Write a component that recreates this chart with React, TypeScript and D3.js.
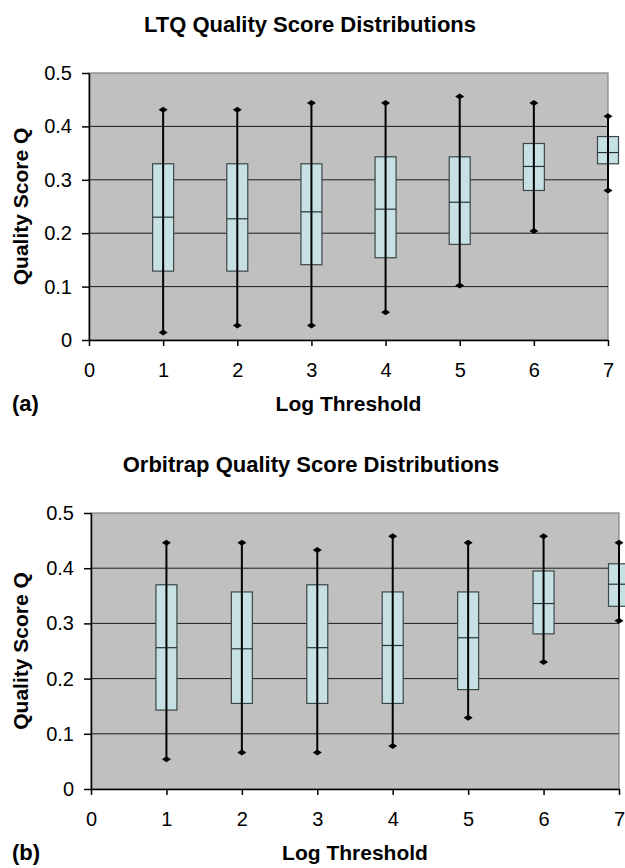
import React, { useRef, useEffect } from 'react';
import * as d3 from 'd3';

// log thresholds on the x axis
const thresholds = [1, 2, 3, 4, 5, 6, 7];
const xTicks = [0, 1, 2, 3, 4, 5, 6, 7];
const yTicks = [0, 0.1, 0.2, 0.3, 0.4, 0.5];

// (a) LTQ
const ltqMin = [0.014, 0.027, 0.027, 0.052, 0.102, 0.204, 0.28];
const ltqQ1 = [0.129, 0.129, 0.141, 0.154, 0.179, 0.28, 0.33];
const ltqMedian = [0.23, 0.227, 0.24, 0.245, 0.258, 0.325, 0.351];
const ltqQ3 = [0.33, 0.33, 0.33, 0.343, 0.343, 0.368, 0.381];
const ltqMax = [0.431, 0.431, 0.444, 0.444, 0.456, 0.444, 0.419];

// (b) Orbitrap
const orbiMin = [0.054, 0.066, 0.066, 0.078, 0.129, 0.23, 0.305];
const orbiQ1 = [0.143, 0.155, 0.155, 0.155, 0.18, 0.281, 0.331];
const orbiMedian = [0.256, 0.254, 0.256, 0.26, 0.274, 0.336, 0.371];
const orbiQ3 = [0.37, 0.357, 0.37, 0.357, 0.357, 0.395, 0.408];
const orbiMax = [0.446, 0.446, 0.433, 0.458, 0.446, 0.458, 0.446];

const FONT = "'Liberation Sans', Arial, sans-serif";

type Panel = {
  title: string;
  tag: string;
  top: number; // svg offset of panel
  plot: { left: number; right: number; top: number; bottom: number };
  titleX: number;
  min: number[]; q1: number[]; median: number[]; q3: number[]; max: number[];
};

const panels: Panel[] = [
  {
    title: 'LTQ Quality Score Distributions', tag: '(a)', top: 0,
    plot: { left: 89, right: 608, top: 73, bottom: 340 }, titleX: 310,
    min: ltqMin, q1: ltqQ1, median: ltqMedian, q3: ltqQ3, max: ltqMax,
  },
  {
    title: 'Orbitrap Quality Score Distributions', tag: '(b)', top: 440,
    plot: { left: 91, right: 619, top: 73, bottom: 349 }, titleX: 311,
    min: orbiMin, q1: orbiQ1, median: orbiMedian, q3: orbiQ3, max: orbiMax,
  },
];

function drawPanel(svg: d3.Selection<SVGSVGElement, unknown, null, undefined>, p: Panel) {
  const g = svg.append('g').attr('transform', `translate(0,${p.top})`);
  const { left, right, top, bottom } = p.plot;

  const x = d3.scaleLinear().domain([0, 7]).range([left, right]);
  const y = d3.scaleLinear().domain([0, 0.5]).range([bottom, top]);

  // plot area
  g.append('rect')
    .attr('x', left).attr('y', top)
    .attr('width', right - left).attr('height', bottom - top)
    .attr('fill', '#c0c0c0')
    .attr('stroke', '#808080').attr('stroke-width', 1.2);

  // gridlines
  g.selectAll('.grid')
    .data(yTicks.filter(t => t > 0 && t < 0.5))
    .enter().append('line')
    .attr('x1', left).attr('x2', right)
    .attr('y1', d => y(d)).attr('y2', d => y(d))
    .attr('stroke', '#1a1a1a').attr('stroke-width', 1);

  // y axis
  const yAxis = d3.axisLeft(y).tickValues(yTicks).tickSize(7).tickSizeOuter(0)
    .tickFormat(d => (d === 0 ? '0' : d3.format('.1f')(d as number)));
  const ya = g.append('g').attr('transform', `translate(${left},0)`).call(yAxis);
  ya.select('.domain').attr('stroke', '#000').attr('stroke-width', 1.5);
  ya.selectAll('line').attr('stroke', '#000').attr('stroke-width', 1.5);
  ya.selectAll('text').attr('font-size', 20).attr('font-family', FONT).attr('fill', '#000').attr('x', -17);

  // x axis
  const xAxis = d3.axisBottom(x).tickValues(xTicks).tickSize(6).tickSizeOuter(0)
    .tickFormat(d3.format('d'));
  const xa = g.append('g').attr('transform', `translate(0,${bottom})`).call(xAxis);
  xa.select('.domain').attr('stroke', '#000').attr('stroke-width', 1.5);
  xa.selectAll('line').attr('stroke', '#000').attr('stroke-width', 1.5);
  xa.selectAll('text').attr('font-size', 20).attr('font-family', FONT).attr('fill', '#000')
    .attr('y', 23).attr('dy', '0.71em');

  const boxW = 21;
  const idx = thresholds.map((_, i) => i);

  // boxes
  g.selectAll('.box').data(idx).enter().append('rect')
    .attr('x', i => x(thresholds[i]) - boxW / 2)
    .attr('y', i => y(p.q3[i]))
    .attr('width', boxW)
    .attr('height', i => y(p.q1[i]) - y(p.q3[i]))
    .attr('fill', '#c6e0e3')
    .attr('stroke', '#3c4646').attr('stroke-width', 1.2);

  g.selectAll('.median').data(idx).enter().append('line')
    .attr('x1', i => x(thresholds[i]) - boxW / 2)
    .attr('x2', i => x(thresholds[i]) + boxW / 2)
    .attr('y1', i => y(p.median[i])).attr('y2', i => y(p.median[i]))
    .attr('stroke', '#2a3232').attr('stroke-width', 1.2);

  // whiskers
  g.selectAll('.whisker').data(idx).enter().append('line')
    .attr('x1', i => x(thresholds[i])).attr('x2', i => x(thresholds[i]))
    .attr('y1', i => y(p.min[i])).attr('y2', i => y(p.max[i]))
    .attr('stroke', '#000').attr('stroke-width', 2);

  // diamond end markers
  const diamond = d3.line()([[-4.5, 0], [0, -3], [4.5, 0], [0, 3]]) + 'Z';
  const ends = idx.flatMap(i => [
    { t: thresholds[i], v: p.min[i] },
    { t: thresholds[i], v: p.max[i] },
  ]);
  g.selectAll('.marker').data(ends).enter().append('path')
    .attr('d', diamond)
    .attr('transform', d => `translate(${x(d.t)},${y(d.v)})`)
    .attr('fill', '#000');

  // titles
  g.append('text')
    .attr('x', p.titleX).attr('y', 32)
    .attr('text-anchor', 'middle')
    .attr('font-family', FONT).attr('font-weight', 'bold').attr('font-size', 22)
    .text(p.title);

  g.append('text')
    .attr('transform', `translate(28,${(top + bottom) / 2}) rotate(-90)`)
    .attr('text-anchor', 'middle')
    .attr('font-family', FONT).attr('font-weight', 'bold').attr('font-size', 21)
    .text('Quality Score Q');

  g.append('text')
    .attr('x', (left + right) / 2).attr('y', bottom + 71)
    .attr('text-anchor', 'middle')
    .attr('font-family', FONT).attr('font-weight', 'bold').attr('font-size', 21)
    .text('Log Threshold');

  g.append('text')
    .attr('x', 12).attr('y', bottom + 71)
    .attr('font-family', FONT).attr('font-weight', 'bold').attr('font-size', 22)
    .text(p.tag);
}

export default function App() {
  const svgRef = useRef<SVGSVGElement>(null);

  useEffect(() => {
    if (!svgRef.current) return;
    const svg = d3.select(svgRef.current);
    svg.selectAll('*').remove();
    panels.forEach(p => drawPanel(svg, p));
  }, []);

  return (
    <div style={{ position: 'absolute', left: 0, top: 0, background: '#fff' }}>
      <svg ref={svgRef} width={625} height={868} style={{ display: 'block' }} />
    </div>
  );
}
